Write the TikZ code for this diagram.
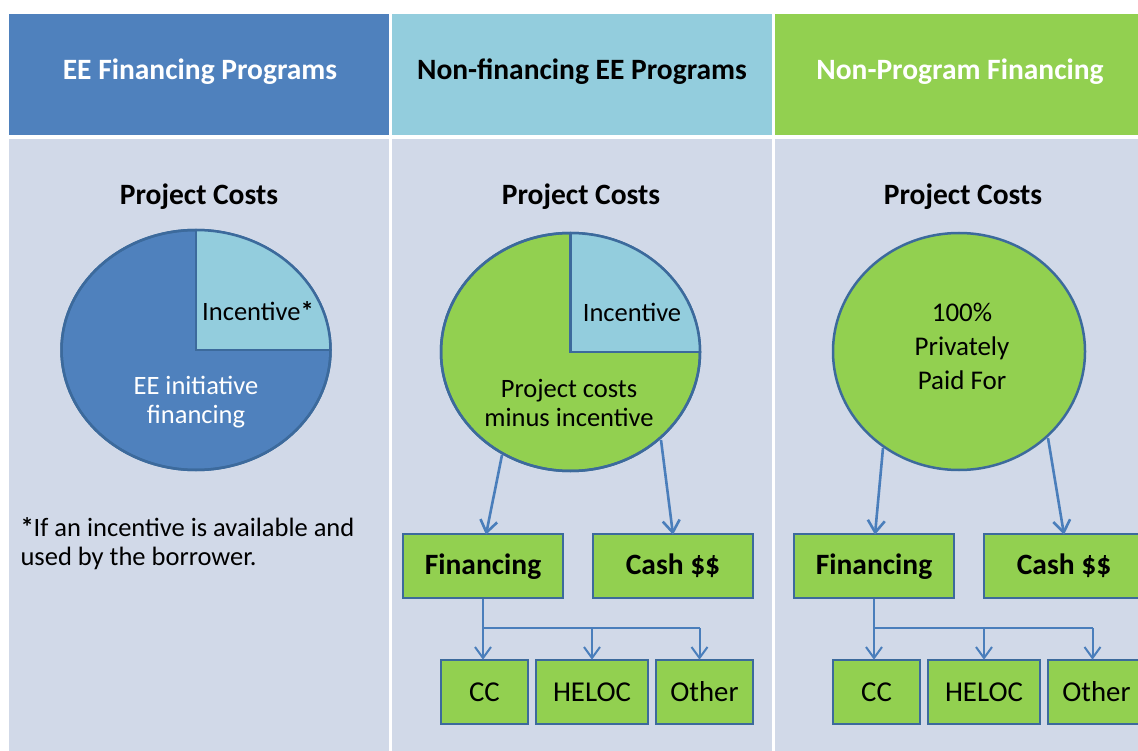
\documentclass[tikz,border=0pt]{standalone}
\usepackage{fontspec}
\setmainfont{Carlito}
\usetikzlibrary{arrows.meta,shapes.geometric,calc}
\definecolor{hblue}{HTML}{4F81BD}
\definecolor{hlight}{HTML}{93CDDD}
\definecolor{hgreen}{HTML}{92D050}
\definecolor{bodybg}{HTML}{D1D9E8}
\definecolor{edge}{HTML}{3C6A9C}
\definecolor{conncol}{HTML}{4A7EBB}
\tikzset{
  hdr/.style={font=\bfseries\fontsize{29.5}{34}\selectfont},
  ttl/.style={font=\bfseries\fontsize{29.5}{34}\selectfont, text=black},
  ptxt/.style={font=\fontsize{26.5}{29}\selectfont, align=center},
  pie/.style={ellipse, draw=edge, line width=2.5pt, inner sep=0pt},
  box/.style={rectangle, draw=edge, fill=hgreen, line width=2.6pt, minimum height=64, inner sep=0pt},
  bbox/.style={box, font=\bfseries\fontsize{29.5}{34}\selectfont, text depth=4pt},
  sbox/.style={box, font=\fontsize{28.8}{34}\selectfont},
  conn/.style={draw=conncol, line width=2pt},
  arr/.style={conn, -{Straight Barb[length=11pt,width=16pt]}},
  marr/.style={draw=conncol, line width=2.6pt, -{Straight Barb[length=12pt,width=17pt]}}
}
\begin{document}
\begin{tikzpicture}[x=1pt,y=-1pt]
\useasboundingbox (0,0) rectangle (1138,751);
\clip (0,0) rectangle (1138,751);
\fill[white] (0,0) rectangle (1138,751);
% headers
\fill[hblue] (9,14) rectangle (389,135);
\fill[hlight] (392,14) rectangle (772,135);
\fill[hgreen] (775,14) rectangle (1160,135);
% bodies
\fill[bodybg] (9,139) rectangle (389,760);
\fill[bodybg] (392,139) rectangle (772,760);
\fill[bodybg] (775,139) rectangle (1160,760);
\node[hdr, text=white] (h1) at (200,72) {EE Financing Programs};
\node[hdr, text=black] (h2) at (582,72) {Non-financing EE Programs};
\node[hdr, text=white] (h3) at (960,72) {Non-Program Financing};
\node[ttl] (t1) at (199,197) {Project Costs};
\node[ttl] (t2) at (581,197) {Project Costs};
\node[ttl] (t3) at (963,197) {Project Costs};
% pie 1
\node[pie, fill=hblue, minimum width=269, minimum height=240] (pie1) at (196,350) {};
\fill[hlight] (196,350) -- (330.5,350) arc[start angle=0, end angle=-90, x radius=134.5, y radius=120] -- cycle;
\draw[edge, line width=2.5pt] (330.5,350) -- (196,350) -- (196,230);
\draw[edge, line width=2.5pt] (pie1) ellipse [x radius=134.5, y radius=120];
\node[ptxt] (inc1) at (258,311) {Incentive\textbf{*}};
\node[ptxt, text=white] (ee1) at (196,402) {EE initiative\\financing};
% pie 2
\node[pie, fill=hgreen, minimum width=259, minimum height=238] (pie2) at (570.5,352) {};
\fill[hlight] (570.5,352) -- (700,352) arc[start angle=0, end angle=-90, x radius=129.5, y radius=119] -- cycle;
\draw[edge, line width=2.5pt] (700,352) -- (570.5,352) -- (570.5,233);
\draw[edge, line width=2.5pt] (pie2) ellipse [x radius=129.5, y radius=119];
\node[ptxt] (inc2) at (632,312) {Incentive};
\node[ptxt] (pc2) at (569,403) {Project costs\\minus incentive};
% pie 3
\node[pie, fill=hgreen, minimum width=252, minimum height=237] (pie3) at (959,351.5) {};
\node[ptxt, font=\fontsize{27}{34}\selectfont] (pp3) at (962,346) {100\%\\Privately\\Paid For};
% footnote
\node[ptxt, align=left, anchor=west] (fn) at (17,544) {\textbf{*}If an incentive is available and\\used by the borrower.};
% col 2 boxes
\node[bbox, minimum width=160] (fin2) at (483,566) {Financing};
\node[bbox, minimum width=160] (cash2) at (673,566) {Cash \$\$};
\node[sbox, minimum width=87] (cc2) at (484.5,692) {CC};
\node[sbox, minimum width=112] (hel2) at (592,692) {HELOC};
\node[sbox, minimum width=97] (oth2) at (704.5,692) {Other};
% col 3 boxes
\node[bbox, minimum width=160] (fin3) at (874,566) {Financing};
\node[bbox, minimum width=160] (cash3) at (1064,566) {Cash \$\$};
\node[sbox, minimum width=87] (cc3) at (876.5,692) {CC};
\node[sbox, minimum width=112] (hel3) at (984,692) {HELOC};
\node[sbox, minimum width=97] (oth3) at (1096.5,692) {Other};
% arrows from pies
\coordinate (p2a) at (502,455);
\coordinate (p2b) at (661,440);
\coordinate (p3a) at (883,448);
\coordinate (p3b) at (1048,438);
\draw[marr] (p2a) -- ([xshift=3,yshift=-2]fin2.north);
\draw[marr] (p2b) -- ([yshift=-2]cash2.north);
\draw[marr] (p3a) -- ([xshift=1,yshift=-2]fin3.north);
\draw[marr] (p3b) -- ([yshift=-2]cash3.north);
% tree col 2
\coordinate (j2) at (483,628);
\draw[conn] (fin2.south) -- (j2) -- ([xshift=-5]oth2.north |- j2);
\draw[arr] (j2) -- ([yshift=-1]j2 |- cc2.north);
\draw[arr] (hel2.north |- j2) -- ([yshift=-1]hel2.north);
\draw[arr] ([xshift=-5]oth2.north |- j2) -- ([xshift=-5,yshift=-1]oth2.north);
% tree col 3
\coordinate (j3) at (874,628);
\draw[conn] (fin3.south) -- (j3) -- ([xshift=-4]oth3.north |- j3);
\draw[arr] (j3) -- ([yshift=-1]j3 |- cc3.north);
\draw[arr] (hel3.north |- j3) -- ([yshift=-1]hel3.north);
\draw[arr] ([xshift=-4]oth3.north |- j3) -- ([xshift=-4,yshift=-1]oth3.north);
\end{tikzpicture}
\end{document}
